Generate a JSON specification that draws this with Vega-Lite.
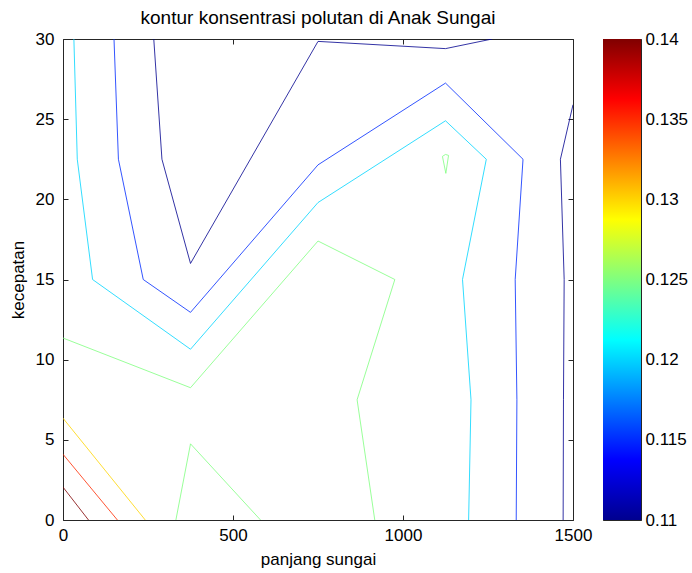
{
  "$schema": "https://vega.github.io/schema/vega-lite/v6.json",
  "padding": {"left": 8, "top": 8, "right": 0, "bottom": 0},
  "background": "white",
  "bounds": "flush",
  "spacing": 30,
  "config": {
    "view": {"stroke": "#262626", "strokeWidth": 1},
    "font": "Liberation Sans",
    "axis": {
      "grid": false,
      "domain": false,
      "labelFontSize": 17,
      "labelColor": "black",
      "titleFontSize": 17,
      "titleFontWeight": "normal",
      "titleColor": "black",
      "tickColor": "#262626",
      "tickSize": 5,
      "offset": -5,
      "labelFlush": false,
      "labelFont": "Liberation Sans",
      "titleFont": "Liberation Sans"
    }
  },
  "hconcat": [
    {
      "width": 510,
      "height": 481,
      "title": {
        "text": "kontur konsentrasi polutan di Anak Sungai",
        "fontSize": 19,
        "fontWeight": "normal",
        "font": "Liberation Sans",
        "color": "black",
        "baseline": "alphabetic",
        "offset": -13,
        "anchor": "middle"
      },
      "data": {
        "values": [
          {"seg": "A", "level": 0.11, "ord": 1, "x": 267, "y": 30},
          {"seg": "A", "level": 0.11, "ord": 2, "x": 291, "y": 22.5},
          {"seg": "A", "level": 0.11, "ord": 3, "x": 375, "y": 16},
          {"seg": "A", "level": 0.11, "ord": 4, "x": 750, "y": 29.85},
          {"seg": "A", "level": 0.11, "ord": 5, "x": 1125, "y": 29.4},
          {"seg": "A", "level": 0.11, "ord": 6, "x": 1262, "y": 30},
          {"seg": "B", "level": 0.11, "ord": 1, "x": 1500, "y": 25.9},
          {"seg": "B", "level": 0.11, "ord": 2, "x": 1463, "y": 22.5},
          {"seg": "B", "level": 0.11, "ord": 3, "x": 1474, "y": 15},
          {"seg": "B", "level": 0.11, "ord": 4, "x": 1472, "y": 7.5},
          {"seg": "B", "level": 0.11, "ord": 5, "x": 1471, "y": 0},
          {"seg": "C", "level": 0.115, "ord": 1, "x": 150, "y": 30},
          {"seg": "C", "level": 0.115, "ord": 2, "x": 163, "y": 22.5},
          {"seg": "C", "level": 0.115, "ord": 3, "x": 236, "y": 15},
          {"seg": "C", "level": 0.115, "ord": 4, "x": 375, "y": 12.95},
          {"seg": "C", "level": 0.115, "ord": 5, "x": 750, "y": 22.15},
          {"seg": "C", "level": 0.115, "ord": 6, "x": 1125, "y": 27.25},
          {"seg": "C", "level": 0.115, "ord": 7, "x": 1353, "y": 22.5},
          {"seg": "C", "level": 0.115, "ord": 8, "x": 1330, "y": 15},
          {"seg": "C", "level": 0.115, "ord": 9, "x": 1335, "y": 7.5},
          {"seg": "C", "level": 0.115, "ord": 10, "x": 1333, "y": 0},
          {"seg": "D", "level": 0.12, "ord": 1, "x": 32, "y": 30},
          {"seg": "D", "level": 0.12, "ord": 2, "x": 42, "y": 22.5},
          {"seg": "D", "level": 0.12, "ord": 3, "x": 87, "y": 15},
          {"seg": "D", "level": 0.12, "ord": 4, "x": 375, "y": 10.65},
          {"seg": "D", "level": 0.12, "ord": 5, "x": 750, "y": 19.8},
          {"seg": "D", "level": 0.12, "ord": 6, "x": 1125, "y": 24.9},
          {"seg": "D", "level": 0.12, "ord": 7, "x": 1245, "y": 22.5},
          {"seg": "D", "level": 0.12, "ord": 8, "x": 1175, "y": 15},
          {"seg": "D", "level": 0.12, "ord": 9, "x": 1200, "y": 7.5},
          {"seg": "D", "level": 0.12, "ord": 10, "x": 1193, "y": 0},
          {"seg": "E", "level": 0.125, "ord": 1, "x": 0, "y": 11.35},
          {"seg": "E", "level": 0.125, "ord": 2, "x": 375, "y": 8.25},
          {"seg": "E", "level": 0.125, "ord": 3, "x": 750, "y": 17.4},
          {"seg": "E", "level": 0.125, "ord": 4, "x": 976, "y": 15},
          {"seg": "E", "level": 0.125, "ord": 5, "x": 865, "y": 7.5},
          {"seg": "E", "level": 0.125, "ord": 6, "x": 917, "y": 0},
          {"seg": "F", "level": 0.125, "ord": 1, "x": 1116, "y": 22.68},
          {"seg": "F", "level": 0.125, "ord": 2, "x": 1125, "y": 22.8},
          {"seg": "F", "level": 0.125, "ord": 3, "x": 1134, "y": 22.74},
          {"seg": "F", "level": 0.125, "ord": 4, "x": 1126, "y": 21.62},
          {"seg": "F", "level": 0.125, "ord": 5, "x": 1116, "y": 22.68},
          {"seg": "G", "level": 0.125, "ord": 1, "x": 332, "y": 0},
          {"seg": "G", "level": 0.125, "ord": 2, "x": 375, "y": 4.75},
          {"seg": "G", "level": 0.125, "ord": 3, "x": 581, "y": 0},
          {"seg": "H", "level": 0.13, "ord": 1, "x": 0, "y": 6.35},
          {"seg": "H", "level": 0.13, "ord": 2, "x": 242, "y": 0},
          {"seg": "I", "level": 0.135, "ord": 1, "x": 0, "y": 4.1},
          {"seg": "I", "level": 0.135, "ord": 2, "x": 160, "y": 0},
          {"seg": "J", "level": 0.14, "ord": 1, "x": 0, "y": 2.05},
          {"seg": "J", "level": 0.14, "ord": 2, "x": 75, "y": 0}
        ]
      },
      "layer": [
        {
          "mark": {"type": "line", "strokeWidth": 1, "clip": true, "opacity": 0.8},
          "encoding": {
            "x": {
              "field": "x", "type": "quantitative",
              "scale": {"domain": [0, 1500], "nice": false, "zero": false},
              "axis": {"title": "panjang sungai", "orient": "bottom", "values": [0, 500, 1000, 1500], "format": "d", "labelPadding": 7, "titlePadding": 8}
            },
            "y": {
              "field": "y", "type": "quantitative",
              "scale": {"domain": [0, 30], "nice": false, "zero": false},
              "axis": {"title": "kecepatan", "orient": "left", "values": [0, 5, 10, 15, 20, 25, 30], "format": "d", "labelPadding": 9, "titlePadding": 8}
            },
            "color": {
              "field": "level", "type": "quantitative",
              "scale": {
                "type": "linear",
                "interpolate": "rgb",
                "domain": [0.11, 0.115, 0.12, 0.125, 0.13, 0.135, 0.14],
                "range": ["#00008f", "#002bff", "#00d4ff", "#80ff80", "#ffd400", "#ff2b00", "#800000"],
                "nice": false, "zero": false
              },
              "legend": null
            },
            "detail": {"field": "seg"},
            "order": {"field": "ord", "type": "quantitative"}
          }
        },
        {
          "mark": {"type": "line", "opacity": 0},
          "encoding": {
            "x": {
              "field": "x", "type": "quantitative",
              "axis": {"title": null, "orient": "top", "values": [0, 500, 1000, 1500], "labels": false, "minExtent": 0, "maxExtent": 0}
            },
            "y": {
              "field": "y", "type": "quantitative",
              "axis": {"title": null, "orient": "right", "values": [0, 5, 10, 15, 20, 25, 30], "labels": false, "minExtent": 0, "maxExtent": 0}
            },
            "detail": {"field": "seg"},
            "order": {"field": "ord", "type": "quantitative"}
          }
        }
      ],
      "resolve": {"axis": {"x": "independent", "y": "independent"}}
    },
    {
      "width": 38,
      "height": 481,
      "data": {"values": [{"lo": 0.11, "hi": 0.14, "left": 0, "right": 1}]},
      "layer": [
        {
          "mark": {
            "type": "rect",
            "strokeWidth": 0,
            "fill": {
              "gradient": "linear",
              "x1": 0, "y1": 1, "x2": 0, "y2": 0,
              "stops": [
                {"offset": 0, "color": "#00008f"},
                {"offset": 0.125, "color": "#0000ff"},
                {"offset": 0.375, "color": "#00ffff"},
                {"offset": 0.625, "color": "#ffff00"},
                {"offset": 0.875, "color": "#ff0000"},
                {"offset": 1, "color": "#800000"}
              ]
            }
          },
          "encoding": {
            "x": {"field": "left", "type": "quantitative", "scale": {"domain": [0, 1], "nice": false, "zero": false}, "axis": null},
            "x2": {"field": "right"},
            "y": {
              "field": "lo", "type": "quantitative",
              "scale": {"domain": [0.11, 0.14], "nice": false, "zero": false},
              "axis": {"title": null, "orient": "right", "values": [0.11, 0.115, 0.12, 0.125, 0.13, 0.135, 0.14], "format": ".3~f", "labelPadding": 4}
            },
            "y2": {"field": "hi"}
          }
        },
        {
          "mark": {"type": "rect", "opacity": 0},
          "encoding": {
            "x": {"field": "left", "type": "quantitative", "axis": null},
            "x2": {"field": "right"},
            "y": {
              "field": "lo", "type": "quantitative",
              "axis": {"title": null, "orient": "left", "values": [0.11, 0.115, 0.12, 0.125, 0.13, 0.135, 0.14], "labels": false, "minExtent": 0, "maxExtent": 0}
            },
            "y2": {"field": "hi"}
          }
        }
      ],
      "resolve": {"axis": {"y": "independent"}}
    }
  ]
}
